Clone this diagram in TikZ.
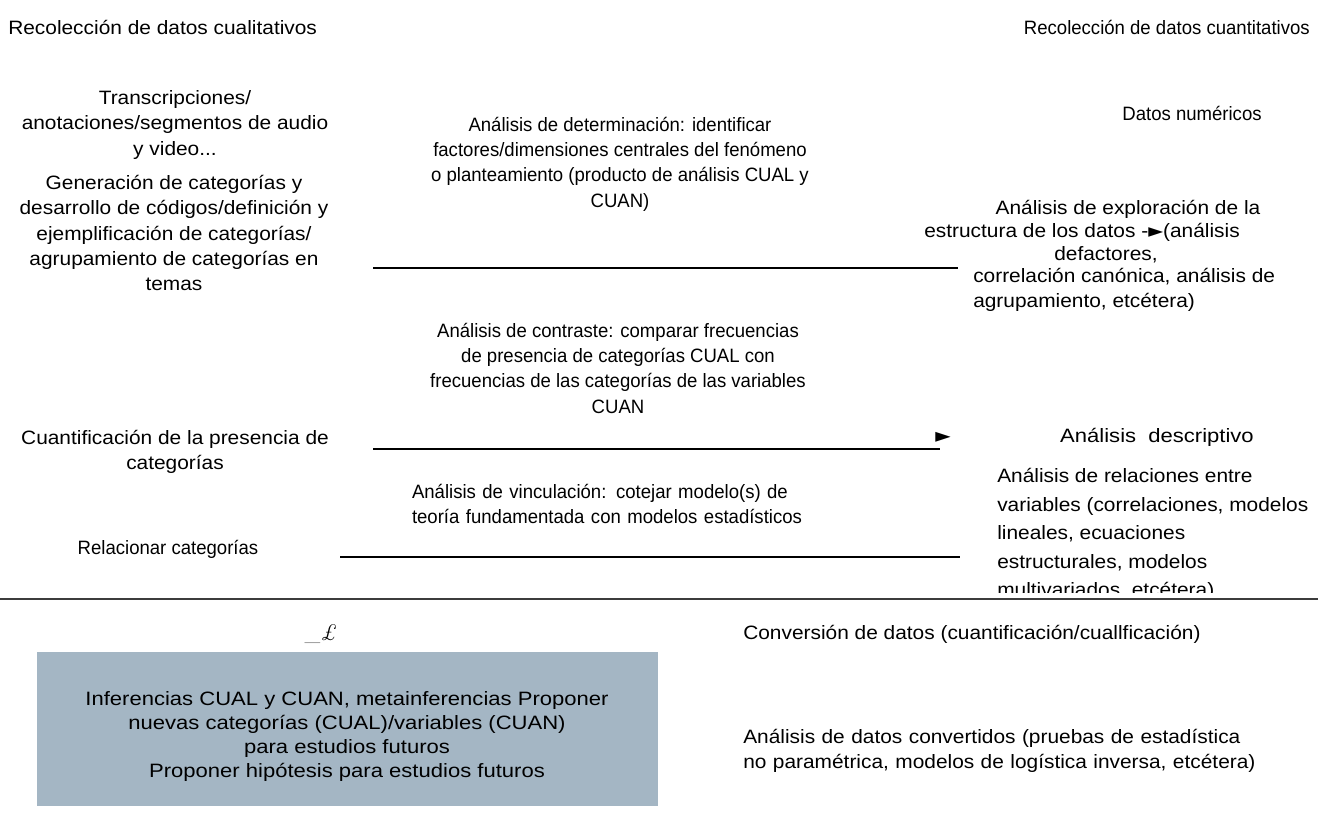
\documentclass[tikz,border=0pt]{standalone}
\usepackage{fontspec}
\newfontfamily\arialfont[FakeStretch=1.08]{Liberation Sans}
\newfontfamily\arialnarrow[FakeStretch=0.96]{Liberation Sans}
\newfontfamily\arialwide[FakeStretch=1.14]{Liberation Sans}
\newfontfamily\symfont{DejaVu Sans}
\newcommand\txtfont{\arialfont\fontsize{14.5pt}{19pt}\selectfont}
\newcommand\narrowfont{\arialnarrow\fontsize{14.5pt}{19pt}\selectfont}
\newcommand\widefont{\arialwide\fontsize{14.5pt}{18pt}\selectfont}
\definecolor{boxgray}{HTML}{A4B6C4}
\definecolor{rulegray}{HTML}{3C3C3C}
\tikzset{
  lbl/.style={font=\txtfont, inner sep=0pt, align=center},
  lblL/.style={font=\txtfont, inner sep=0pt, align=left},
  lblN/.style={font=\narrowfont, inner sep=0pt, align=center},
  lblW/.style={font=\widefont, inner sep=0pt, align=center},
  bar/.style={line width=2.2pt, black},
}
\begin{document}
\begin{tikzpicture}[x=0.75pt, y=-0.75pt]
\useasboundingbox (0,0) rectangle (1318,837);
% headers
\node[lbl, anchor=west] (hcual) at (8,27) {Recolección de datos cualitativos};
\node[lblN, anchor=east] (hcuan) at (1310,27) {Recolección de datos cuantitativos};
% left column
\node[lbl] (trans) at (175,125) {Transcripciones/\\anotaciones/segmentos de audio\\y video...};
\node[lbl] (gener) at (174,233) {Generación de categorías y\\desarrollo de códigos/definición y\\ejemplificación de categorías/\\agrupamiento de categorías en\\temas};
\node[lbl] (cuant) at (175,452) {Cuantificación de la presencia de\\categorías};
\node[lblN] (relac) at (168,549) {Relacionar categorías};
% middle column
\node[lblN] (determ) at (620,164) {Análisis de determinación: identificar\\factores/dimensiones centrales del fenómeno\\o planteamiento (producto de análisis CUAL y\\CUAN)};
\node[lblN] (contr) at (618,368) {Análisis de contraste: comparar frecuencias\\de presencia de categorías CUAL con\\frecuencias de las categorías de las variables\\CUAN};
\node[lblN, align=left, text width=309pt] (vincul) at (618,504) {\makebox[\linewidth][s]{Análisis de vinculación: cotejar modelo(s) de}\\\makebox[\linewidth][s]{teoría fundamentada con modelos estadísticos}};
\coordinate (c1a) at (373,268); \coordinate (c1b) at (958,268);
\coordinate (c2a) at (373,449); \coordinate (c2b) at (940,449);
\coordinate (c3a) at (340,557); \coordinate (c3b) at (960,557);
\draw[bar] (c1a) -- (c1b);
\draw[bar] (c2a) -- (c2b);
\draw[bar] (c3a) -- (c3b);
\node[font=\symfont\fontsize{15pt}{15pt}\selectfont, inner sep=0pt] (tip) at (943,437) {►};
% right column
\node[lblN] (datnum) at (1192,113) {Datos numéricos};
\node[lbl] (ex1) at (1128,209) {Análisis de exploración de la};
\node[lbl] (ex2) at (1082,232) {estructura de los datos -{\symfont►}(análisis};
\node[lbl] (ex3) at (1106,255) {defactores,};
\node[lblL, anchor=west] (ex4) at (973,290) {correlación canónica, análisis de\\agrupamiento, etcétera)};
\node[lblW] (descr) at (1157,437) {Análisis~~descriptivo};
\begin{scope}
\clip (980,455) rectangle (1318,593);
\node[lblL, anchor=north west, font=\arialfont\fontsize{14.5pt}{21.4pt}\selectfont] (relvar) at (997,468) {Análisis de relaciones entre\\variables (correlaciones, modelos\\lineales, ecuaciones\\estructurales, modelos\\multivariados, etcétera)};
\end{scope}
\draw[rulegray, line width=1.4pt] (0,599) -- (1318,599);
% lower part
\node[font=\fontsize{17pt}{17pt}\selectfont, inner sep=0pt] (pound) at (321,634) {\_\textit{£}};
\fill[boxgray] (37,652) rectangle (658,806);
\node[lblW] (infer) at (347,737) {Inferencias CUAL y CUAN, metainferencias Proponer\\nuevas categorías (CUAL)/variables (CUAN)\\para estudios futuros\\Proponer hipótesis para estudios futuros};
\node[lbl, anchor=west] (conv) at (743,634) {Conversión de datos (cuantificación/cuallficación)};
\node[lblL, anchor=west, text width=394pt] (anconv) at (743,751) {\makebox[\linewidth][s]{Análisis de datos convertidos (pruebas de estadística}\\no paramétrica, modelos de logística inversa, etcétera)};
\end{tikzpicture}
\end{document}
